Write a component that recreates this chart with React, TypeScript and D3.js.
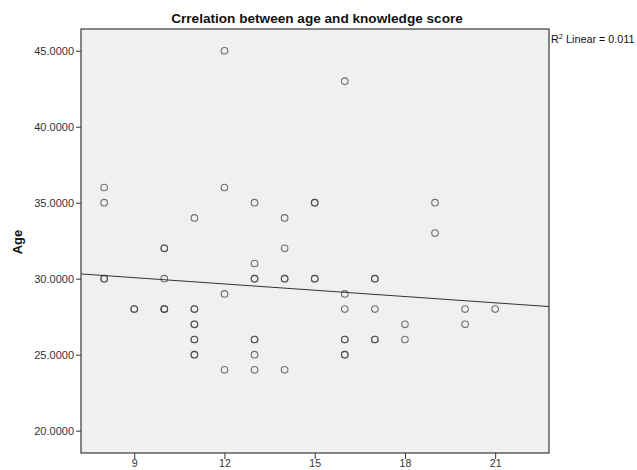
import React, { useEffect, useRef } from 'react'
import * as d3 from 'd3'

// knowledge score (x) and age (y), one entry per respondent
const scores = [
  8, 8, 8, 8,
  9, 9,
  10, 10, 10, 10, 10, 10,
  11, 11, 11, 11, 11, 11, 11, 11, 11,
  12, 12, 12, 12,
  13, 13, 13, 13, 13, 13, 13, 13,
  14, 14, 14, 14, 14,
  15, 15, 15, 15,
  16, 16, 16, 16, 16, 16, 16,
  17, 17, 17, 17, 17,
  18, 18,
  19, 19,
  20, 20,
  21
]
const ages = [
  36, 35, 30, 30,
  28, 28,
  32, 32, 30, 28, 28, 28,
  34, 28, 28, 27, 27, 26, 26, 25, 25,
  45, 36, 29, 24,
  35, 31, 30, 30, 26, 26, 25, 24,
  34, 32, 30, 30, 24,
  35, 35, 30, 30,
  43, 29, 28, 26, 26, 25, 25,
  30, 30, 28, 26, 26,
  27, 26,
  35, 33,
  28, 27,
  28
]

const xTicks = [9, 12, 15, 18, 21]
const yTicks = [20, 25, 30, 35, 40, 45]

// linear fit as reported (R2 = 0.011)
const fitIntercept = 31.31
const fitSlope = -0.138
const r2Label = '0.011'

export default function App() {
  const ref = useRef<SVGSVGElement>(null)

  useEffect(() => {
    const svg = d3.select(ref.current)
    svg.selectAll('*').remove()

    const left = 81, right = 549, top = 29, bottom = 453
    const x = d3.scaleLinear().domain([7.23, 22.79]).range([left, right])
    const y = d3.scaleLinear().domain([18.53, 46.43]).range([bottom, top])
    const font = 'Arial, "Liberation Sans", sans-serif'

    svg.append('rect')
      .attr('x', left).attr('y', top)
      .attr('width', right - left).attr('height', bottom - top)
      .attr('fill', '#f0f0f0')
      .attr('stroke', '#3a3a3a')
      .attr('stroke-width', 1.2)

    // y axis
    const yAxis = svg.append('g')
      .attr('transform', `translate(${left},0)`)
      .call(d3.axisLeft(y).tickValues(yTicks).tickSize(5).tickPadding(2).tickFormat(d3.format('.4f')))
    yAxis.select('.domain').remove()
    yAxis.selectAll('line').attr('stroke', '#333')
    yAxis.selectAll('text').attr('font-family', font).attr('font-size', 11).attr('fill', '#333')

    // x axis
    const xAxis = svg.append('g')
      .attr('transform', `translate(0,${bottom})`)
      .call(d3.axisBottom(x).tickValues(xTicks).tickSize(6).tickPadding(1).tickFormat(d3.format('d')))
    xAxis.select('.domain').remove()
    xAxis.selectAll('line').attr('stroke', '#333')
    xAxis.selectAll('text').attr('font-family', font).attr('font-size', 10.5).attr('fill', '#333')

    // points
    svg.append('g').selectAll('circle')
      .data(scores.map((s, i) => [s, ages[i]]))
      .join('circle')
      .attr('cx', d => x(d[0]))
      .attr('cy', d => y(d[1]))
      .attr('r', 3.3)
      .attr('fill', 'none')
      .attr('stroke', '#444')
      .attr('stroke-opacity', 0.75)
      .attr('stroke-width', 1.1)

    // fit line
    const [x0, x1] = x.domain()
    svg.append('line')
      .attr('x1', x(x0)).attr('y1', y(fitIntercept + fitSlope * x0))
      .attr('x2', x(x1)).attr('y2', y(fitIntercept + fitSlope * x1))
      .attr('stroke', '#333')
      .attr('stroke-width', 1)

    // labels
    svg.append('text')
      .attr('x', 317).attr('y', 23)
      .attr('text-anchor', 'middle')
      .attr('font-family', font).attr('font-size', 13.6).attr('font-weight', 'bold')
      .attr('fill', '#111')
      .text('Crrelation between age and knowledge score')

    svg.append('text')
      .attr('transform', 'translate(22,242) rotate(-90)')
      .attr('text-anchor', 'middle')
      .attr('font-family', font).attr('font-size', 13).attr('font-weight', 'bold')
      .attr('fill', '#111')
      .text('Age')

    const r2 = svg.append('text')
      .attr('x', right + 2).attr('y', 43)
      .attr('font-family', font).attr('font-size', 10.8)
      .attr('fill', '#111')
    r2.append('tspan').text('R')
    r2.append('tspan').attr('dy', -4).attr('font-size', 7.5).text('2')
    r2.append('tspan').attr('dy', 4).text(` Linear = ${r2Label}`)
  }, [])

  return (
    <svg ref={ref} width={637} height={470}
      style={{ position: 'absolute', left: 0, top: 0, background: '#fff' }} />
  )
}
